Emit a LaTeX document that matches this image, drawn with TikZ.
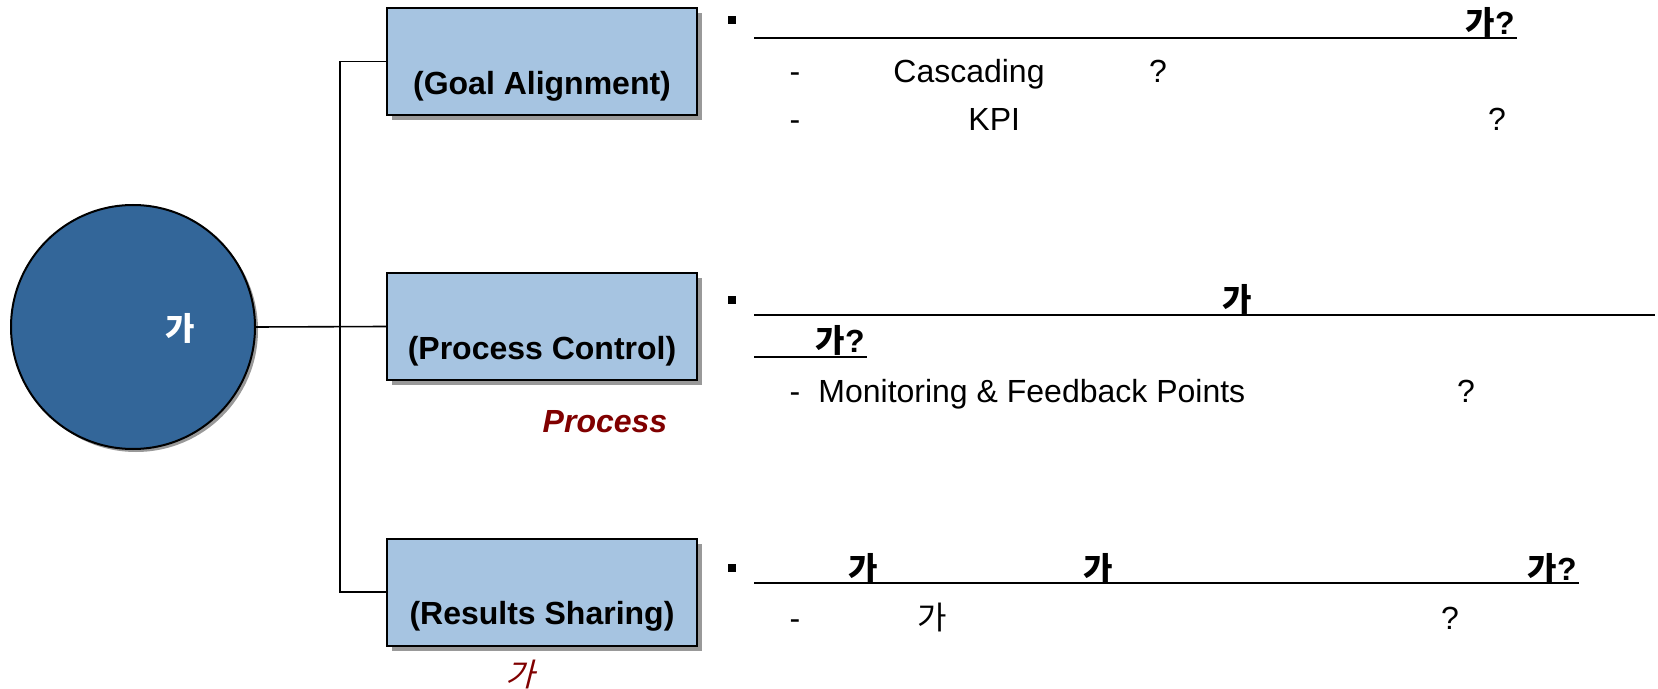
\documentclass[tikz,border=0pt]{standalone}
\usepackage{fontspec}
\setmainfont{Liberation Sans}
\newfontfamily\kr{Noto Sans CJK KR}
\newfontfamily\krsl[FakeSlant=0.25]{Noto Sans CJK KR}
\usetikzlibrary{positioning,shadows}
\definecolor{hubblue}{HTML}{336699}
\definecolor{boxblue}{HTML}{A6C4E1}
\definecolor{procred}{HTML}{800000}
\definecolor{shadowgray}{HTML}{999999}

\begin{document}
\begin{tikzpicture}[x=0.5pt,y=-0.5pt,font=\fontsize{16}{19}\selectfont,
 topic/.style={draw,line width=1pt,fill=boxblue,minimum width=155pt,minimum height=53.5pt,
  drop shadow={shadow xshift=2.5pt,shadow yshift=-2.5pt,fill=shadowgray,opacity=1}},
 topiclbl/.style={font=\fontsize{16}{19}\selectfont\bfseries,inner sep=0pt},
 tag/.style={font=\fontsize{16}{19}\selectfont\bfseries\itshape,text=procred,inner sep=0pt},
 sq/.style={fill,minimum size=3.6pt,inner sep=0pt},
 txtw/.style={inner sep=0pt,anchor=base west},
 txtc/.style={inner sep=0pt,anchor=base},
 txte/.style={inner sep=0pt,anchor=base east},
 uline/.style={line width=1pt},
 link/.style={line width=0.8pt}]

\useasboundingbox (0,0) rectangle (1658,689);

% hub and topics
\node[circle,draw,line width=1pt,fill=hubblue,minimum size=122pt,inner sep=0pt,
 drop shadow={shadow xshift=1.5pt,shadow yshift=-1.5pt,fill=shadowgray,opacity=1}] (hub) at (133,327) {};
\node[text=white,font=\fontsize{16}{19}\selectfont\kr\bfseries,inner sep=0pt] (hubtxt) at (180,328) {가};

\node[topic] (goal) at (542,61.5) {};
\node[topic] (proc) at (542,326.5) {};
\node[topic] (res) at (542,592) {};
\node[topiclbl] (goallbl) at (542,86) {(Goal Alignment)};
\node[topiclbl] (proclbl) at (542,351) {(Process Control)};
\node[topiclbl] (reslbl) at (542,616) {(Results Sharing)};
\node[tag] (proctag) at (605,422) {Process};
\node[tag,font=\fontsize{16}{19}\selectfont\krsl] (restag) at (520,674) {가};

\coordinate (trunk) at (340,327);
\draw[link] (hub.east) -- (proc.west);
\draw[link] (goal.west) -| (trunk) |- (res.west);

% goal alignment notes
\node[sq] (b1) at (732,20) {};
\node[txte,font=\fontsize{16}{19}\selectfont\bfseries] (h1) at (1515,35) {{\kr 가}?};
\draw[uline] (754,38) -- (1517,38);
\node[txtc] (d1a) at (795,83) {-};
\node[txtw] (n1a) at (893,83) {Cascading};
\node[txtc] (q1a) at (1158,83) {?};
\node[txtc] (d1b) at (795,131) {-};
\node[txtw] (n1b) at (968,131) {KPI};
\node[txtc] (q1b) at (1497,131) {?};

% process control notes
\node[sq] (b2) at (732,300) {};
\node[txtc,font=\fontsize{16}{19}\selectfont\kr\bfseries] (h2a) at (1237,312) {가};
\draw[uline] (754,315) -- (1655,315);
\node[txte,font=\fontsize{16}{19}\selectfont\bfseries] (h2b) at (865,352) {{\kr 가}?};
\draw[uline] (754,357) -- (867,357);
\node[txtc] (d2) at (795,402) {-};
\node[txtw] (n2) at (818,402) {Monitoring \& Feedback Points};
\node[txtc] (q2) at (1466,402) {?};

% results sharing notes
\node[sq] (b3) at (732,568) {};
\node[txtc,font=\fontsize{16}{19}\selectfont\kr\bfseries] (h3a) at (863,580) {가};
\node[txtc,font=\fontsize{16}{19}\selectfont\kr\bfseries] (h3b) at (1098,580) {가};
\node[txte,font=\fontsize{16}{19}\selectfont\bfseries] (h3c) at (1577,580) {{\kr 가}?};
\draw[uline] (754,583) -- (1579,583);
\node[txtc] (d3) at (795,629) {-};
\node[txtc,font=\fontsize{16}{19}\selectfont\kr] (n3) at (932,629) {가};
\node[txtc] (q3) at (1450,629) {?};

\end{tikzpicture}
\end{document}
